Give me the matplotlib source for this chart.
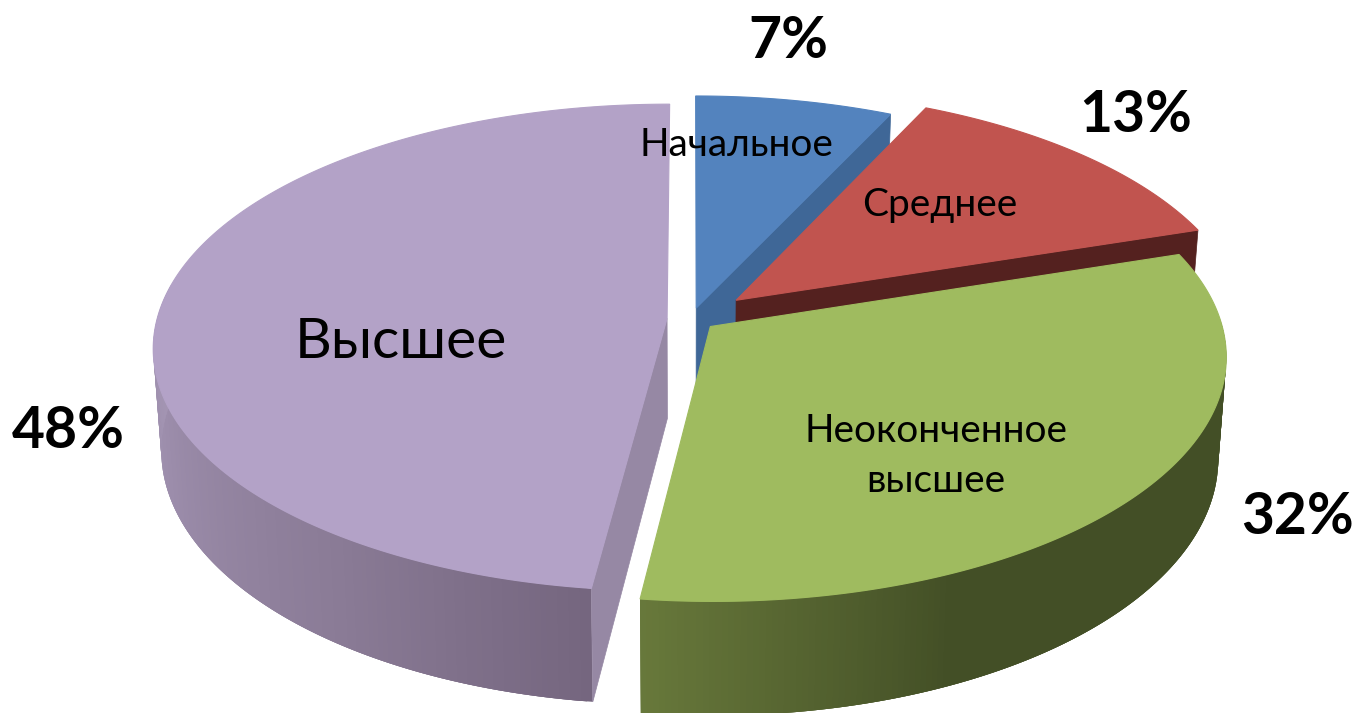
import numpy as np
import matplotlib
matplotlib.use("Agg")
import matplotlib.pyplot as plt
from matplotlib.collections import PolyCollection
from matplotlib.colors import to_rgb
from matplotlib.patches import Polygon

# chart data
categories = ["Начальное", "Среднее", "Неоконченное\nвысшее", "Высшее"]
shares = [7, 13, 32, 48]
percent_labels = ["7%", "13%", "32%", "48%"]
explode = [0.047, 0.119, 0.049, 0.047]

# styles
top_colors = ["#5383be", "#c1544f", "#9fbb5f", "#b3a2c7"]
wall_colors = ["#3f6797", "#54211f", "#434f26", "#9688a4"]

# projection of the tilted pie onto the image
CX, CY = 691, 319
RX, RY = 510, 240
PERSP = 0.12
DEPTH = 100
SHRINK = 0.015


def project(X, Y, Z=0.0):
    w = 1.0 / (1.0 + PERSP * Y)
    x = CX + RX * X * w * (1 - SHRINK * Z)
    y = CY - RY * Y * w + DEPTH * Z * w
    return np.column_stack([np.atleast_1d(x), np.atleast_1d(y)])


def rim(theta, d, mid, Z=0.0):
    X = np.sin(theta) + d * np.sin(mid)
    Y = np.cos(theta) + d * np.cos(mid)
    return project(X, Y, Z)


def apex(d, mid, Z=0.0):
    return project(d * np.sin(mid), d * np.cos(mid), Z)


def gradient_colors(theta, stops):
    deg = np.degrees(theta)
    angles = [s[0] for s in stops]
    rgb = np.array([to_rgb(s[1]) for s in stops])
    return np.column_stack([np.interp(deg, angles, rgb[:, i]) for i in range(3)])


def draw_outer_wall(ax, start, end, d, mid, stops, z):
    theta = np.linspace(start, end, 160)
    top = rim(theta, d, mid)
    bottom = rim(theta, d, mid, 1.0)
    # each strip runs under the next one so no seams show
    quads = [
        [top[i], top[min(i + 3, len(theta) - 1)], bottom[min(i + 3, len(theta) - 1)], bottom[i]]
        for i in range(len(theta) - 1)
    ]
    colors = gradient_colors(theta[:-1], stops)
    pc = PolyCollection(quads, facecolors=colors, edgecolors="none", zorder=z)
    ax.add_collection(pc)


def draw_radial_wall(ax, angle, d, mid, color, z):
    pts = np.vstack([
        apex(d, mid),
        rim(np.array([angle]), d, mid),
        rim(np.array([angle]), d, mid, 1.0),
        apex(d, mid, 1.0),
    ])
    ax.add_patch(Polygon(pts, closed=True, facecolor=color, edgecolor=color, linewidth=0.5, zorder=z))


def draw_top(ax, start, end, d, mid, color, z):
    theta = np.linspace(start, end, 200)
    pts = np.vstack([apex(d, mid), rim(theta, d, mid)])
    ax.add_patch(Polygon(pts, closed=True, facecolor=color, edgecolor=color, linewidth=0.8, zorder=z))


fig = plt.figure(figsize=(13.57, 7.13), dpi=100)
ax = fig.add_axes([0, 0, 1, 1])
ax.set_xlim(0, 1357)
ax.set_ylim(713, 0)
ax.axis("off")

edges = np.cumsum([0] + shares) / np.sum(shares) * 2 * np.pi
mids = (edges[:-1] + edges[1:]) / 2

# blue, red: only the far radial wall shows
draw_radial_wall(ax, edges[1], explode[0], mids[0], wall_colors[0], 1)
draw_top(ax, edges[0], edges[1], explode[0], mids[0], top_colors[0], 2)
draw_radial_wall(ax, edges[2], explode[1], mids[1], wall_colors[1], 3)
draw_top(ax, edges[1], edges[2], explode[1], mids[1], top_colors[1], 4)

# green
green_stops = [(72, "#434f26"), (155, "#434f26"), (187.2, "#68793b")]
draw_outer_wall(ax, np.radians(88), edges[3], explode[2], mids[2], green_stops, 5)
draw_top(ax, edges[2], edges[3], explode[2], mids[2], top_colors[2], 6)

# purple: strips go from the front corner round to the left side
purple_stops = [(187.2, "#75667f"), (215, "#8a7b96"), (250, "#9c8dab"), (290, "#a99bb9")]
draw_outer_wall(ax, edges[3], np.radians(278), explode[3], mids[3], purple_stops, 7)
draw_radial_wall(ax, edges[3], explode[3], mids[3], wall_colors[3], 8)
draw_top(ax, edges[3], edges[4], explode[3], mids[3], top_colors[3], 9)

# labels
font = ["Lato", "Open Sans", "DejaVu Sans"]
ax.text(736, 145, categories[0], fontsize=28, family=font, ha="center", va="center", zorder=20)
ax.text(940, 205, categories[1], fontsize=28, family=font, ha="center", va="center", zorder=20)
ax.text(936, 456, categories[2], fontsize=28, family=font, ha="center", va="center",
        linespacing=1.48, zorder=20)
ax.text(401, 342, categories[3], fontsize=41, family=font, ha="center", va="center", zorder=20)

pct_xy = [(788, 41), (1136, 115), (1298, 517), (68, 431)]
for label, (px, py) in zip(percent_labels, pct_xy):
    ax.text(px, py, label, fontsize=41, fontweight="bold", family=font,
            ha="center", va="center", zorder=20)

fig.savefig("out.png", dpi=100, facecolor="white")
